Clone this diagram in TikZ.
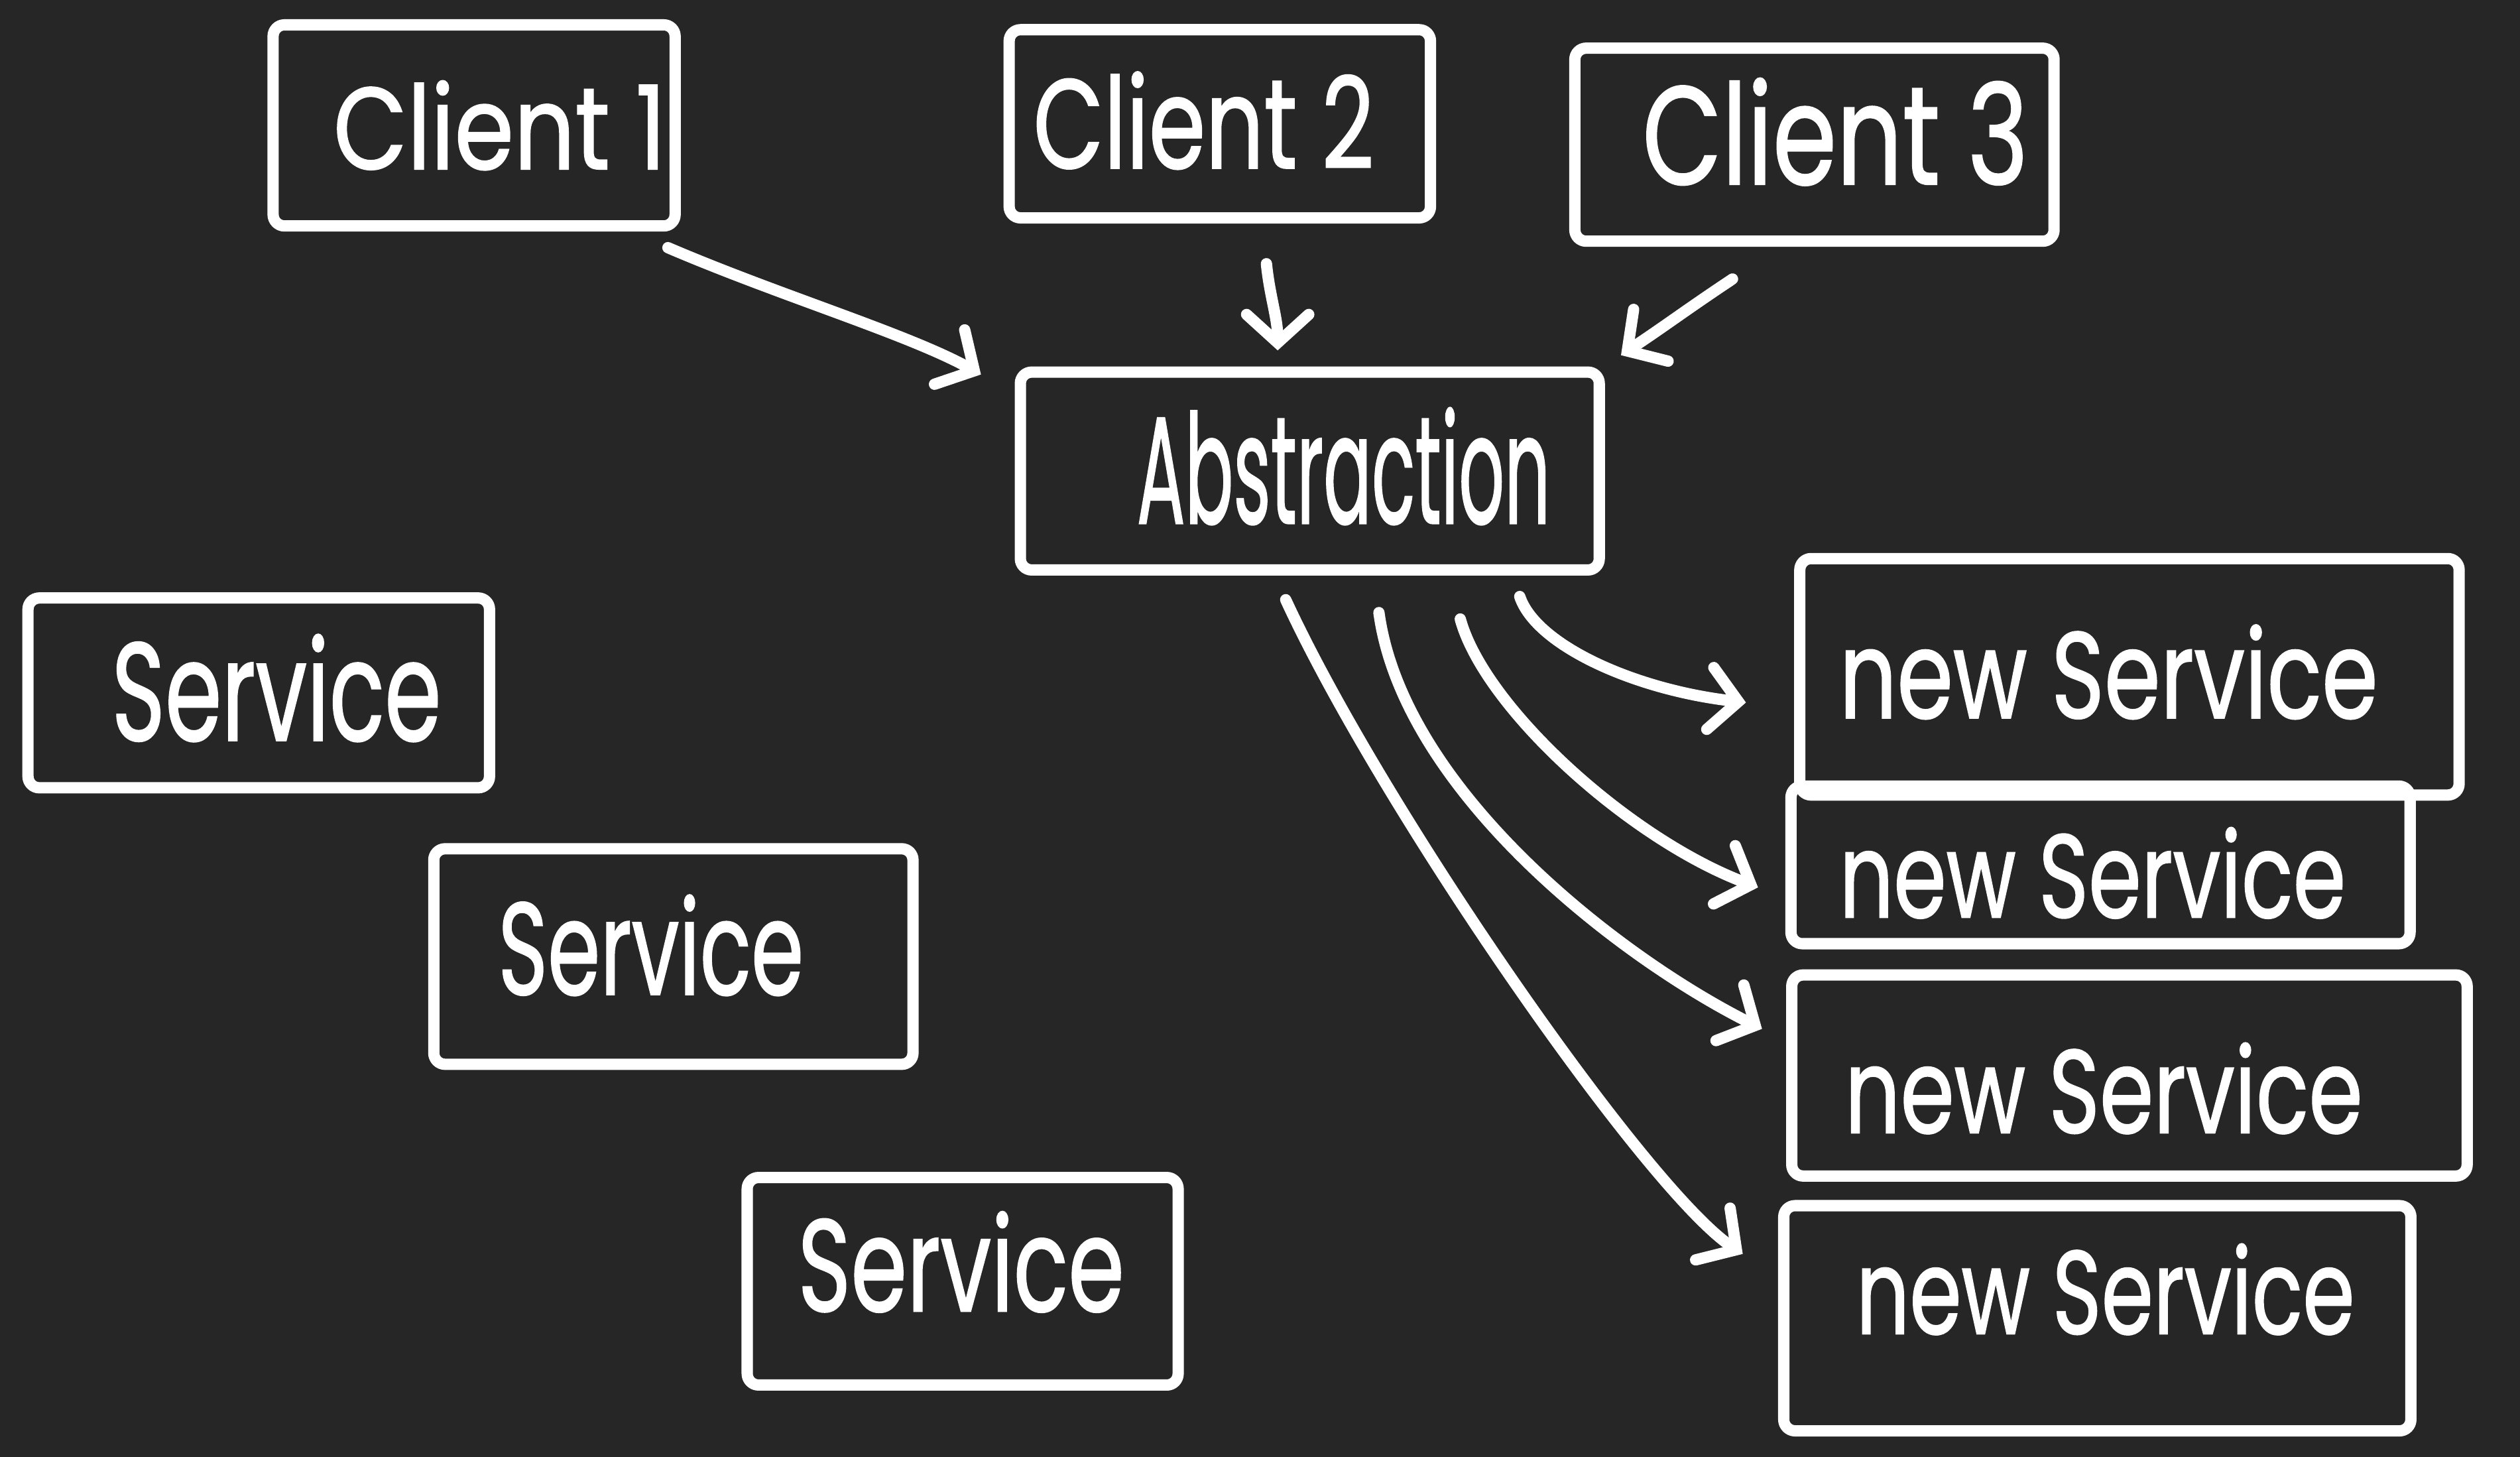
\documentclass[tikz,border=0pt]{standalone}
\usepackage{fontspec}
\setmainfont{Poppins}
\newfontfamily\skfont[FakeBold=1.2]{Poppins}
\usetikzlibrary{arrows.meta}
\definecolor{bg}{HTML}{262626}
\newcommand{\sktext}[3]{\resizebox{#1}{#2}{#3}}
\tikzset{
  sk/.style={draw=white, line width=2pt, line cap=round, line join=round},
  skbox/.style={sk, inner sep=0pt, fill=none, rounded corners=2pt},
  sklabel/.style={text=white, inner sep=0pt, font=\skfont\fontsize{18}{20}\selectfont},
  skarrow/.style={sk, -{Straight Barb[length=5pt,width=11pt,line cap=round]}},
}
\begin{document}
\begin{tikzpicture}[x=0.01cm,y=-0.01cm]
\useasboundingbox (0,0) rectangle (1568,906);
\fill[bg] (-10,-10) rectangle (1578,916);

% boxes
\node[skbox, minimum width=2.50cm, minimum height=1.25cm] (c1) at (295,78) {};
\node[skbox, minimum width=2.62cm, minimum height=1.17cm] (c2) at (759,77) {};
\node[skbox, minimum width=2.98cm, minimum height=1.20cm] (c3) at (1129,90) {};
\node[skbox, minimum width=3.60cm, minimum height=1.23cm] (abs) at (815,293) {};
\node[skbox, minimum width=2.87cm, minimum height=1.18cm] (s1) at (161,431) {};
\node[skbox, minimum width=2.98cm, minimum height=1.34cm] (s2) at (419,595) {};
\node[skbox, minimum width=2.68cm, minimum height=1.29cm] (s3) at (599,797) {};
\node[skbox, minimum width=4.10cm, minimum height=1.47cm] (n1) at (1325,421) {};
\node[skbox, minimum width=3.85cm, minimum height=0.98cm] (n2) at (1307,538) {};
\node[skbox, minimum width=4.20cm, minimum height=1.25cm] (n3) at (1325,669) {};
\node[skbox, minimum width=3.90cm, minimum height=1.40cm] (n4) at (1305,820) {};

% texts
\node[sklabel] (t1) at (311,78) {\sktext{2.07cm}{0.55cm}{Client 1}};
\node[sklabel] (t2) at (749,75) {\sktext{2.12cm}{0.60cm}{Client 2}};
\node[sklabel] (t3) at (1142,82) {\sktext{2.40cm}{0.66cm}{Client 3}};
\node[sklabel] (tabs) at (836,290) {\sktext{2.57cm}{0.72cm}{Abstraction}};
\node[sklabel] (ts1) at (172,428) {\sktext{2.05cm}{0.66cm}{Service}};
\node[sklabel] (ts2) at (405,588) {\sktext{1.90cm}{0.62cm}{Service}};
\node[sklabel] (ts3) at (598,785) {\sktext{2.03cm}{0.62cm}{Service}};
\node[sklabel] (tn1) at (1312,418) {\sktext{3.35cm}{0.58cm}{new Service}};
\node[sklabel] (tn2) at (1302,543) {\sktext{3.15cm}{0.56cm}{new Service}};
\node[sklabel] (tn3) at (1309,677) {\sktext{3.22cm}{0.56cm}{new Service}};
\node[sklabel] (tn4) at (1310,802) {\sktext{3.10cm}{0.56cm}{new Service}};

% connectors
\draw[skarrow] ([shift={(-8,10)}]c1.south east) .. controls +(70,30) and +(-45,-25) .. ([shift={(-21,5)}]abs.north west);
\draw[skarrow] ([shift={(29,25)}]c2.south) .. controls +(2,20) and +(0,-20) .. ([shift={(-20,-10)}]abs.north);
\draw[skarrow] ([shift={(-51,20)}]c3.south) .. controls +(-30,20) and +(30,-20) .. ([shift={(10,-7)}]abs.north east);
\draw[skarrow] ([shift={(-53,13)}]abs.south east) .. controls +(10,30) and +(-70,-8) .. ([shift={(-30,16)}]n1.west);
\draw[skarrow] ([shift={(-90,27)}]abs.south east) .. controls +(15,55) and +(-80,-30) .. ([shift={(-17,14)}]n2.west);
\draw[skarrow] ([shift={(43,23)}]abs.south) .. controls +(15,110) and +(-90,-45) .. ([shift={(-15,-29)}]n3.west);
\draw[skarrow] ([shift={(-15,15)}]abs.south) .. controls +(60,130) and +(-60,-40) .. ([shift={(-22,-40)}]n4.west);
\end{tikzpicture}
\end{document}
